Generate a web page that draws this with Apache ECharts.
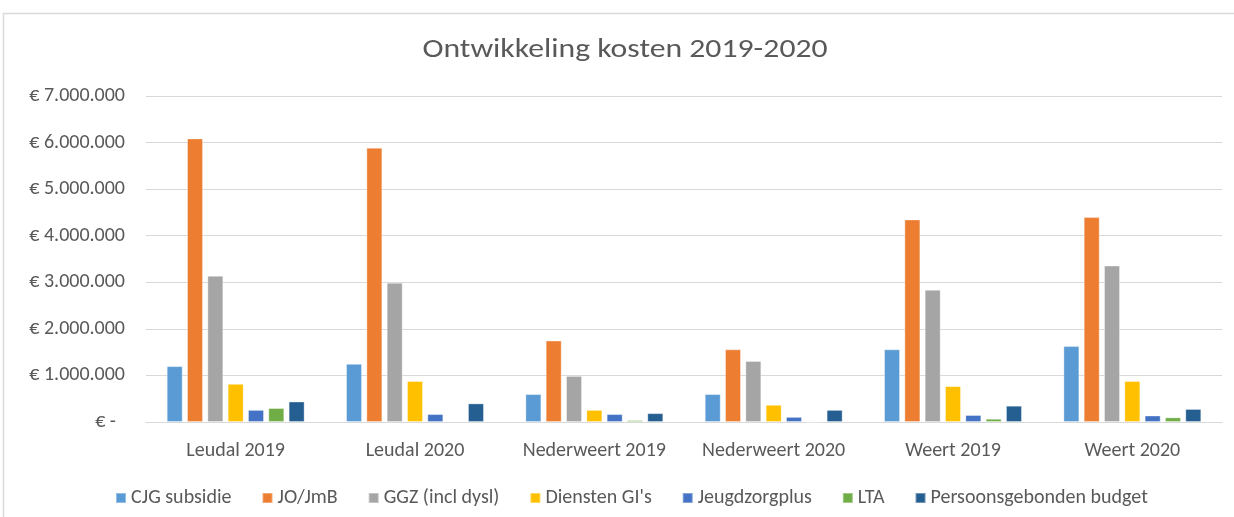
<!DOCTYPE html>
<html>
<head>
<meta charset="utf-8">
<script src="https://cdn.jsdelivr.net/npm/echarts@6/dist/echarts.min.js"></script>
<style>
  html, body { margin: 0; padding: 0; background: #fff; }
  #chart { width: 1234px; height: 517px; }
</style>
</head>
<body>
<div id="chart"></div>
<script>
// Categories (municipality + year)
const categories = ['Leudal 2019', 'Leudal 2020', 'Nederweert 2019', 'Nederweert 2020', 'Weert 2019', 'Weert 2020'];

// Cost per category, in euros
const cjgSubsidie   = [1200000, 1250000, 600000, 600000, 1560000, 1630000];
const joJmb         = [6090000, 5890000, 1750000, 1560000, 4350000, 4400000];
const ggzInclDysl   = [3140000, 2990000, 990000, 1310000, 2840000, 3360000];
const dienstenGi    = [820000, 880000, 260000, 370000, 770000, 880000];
const jeugdzorgplus = [260000, 170000, 170000, 110000, 150000, 140000];
const lta           = [300000, 20000, 40000, 0, 70000, 100000];
const pgb           = [440000, 400000, 190000, 260000, 350000, 280000];

const seriesNames = ['CJG subsidie', 'JO/JmB', 'GGZ (incl dysl)', "Diensten GI's", 'Jeugdzorgplus', 'LTA', 'Persoonsgebonden budget'];
const seriesData = [cjgSubsidie, joJmb, ggzInclDysl, dienstenGi, jeugdzorgplus, lta, pgb];
const colors = ['#5B9BD5', '#ED7D31', '#A5A5A5', '#FFC000', '#4472C4', '#70AD47', '#255E91'];

const FONT = "Carlito, Lato, sans-serif";
const TEXT_COLOR = '#595959';

// Accounting-style euro label: dots as thousands separator, dash for zero
function euro(v) {
  if (v === 0) return '€ -  ';
  return '€ ' + String(v).replace(/\B(?=(\d{3})+(?!\d))/g, '.');
}

const chart = echarts.init(document.getElementById('chart'), null, { renderer: 'canvas' });
chart.setOption({
  animation: false,
  color: colors,
  graphic: [
    {
      type: 'rect',
      shape: { x: 3.5, y: 13.5, width: 1240, height: 520 },
      style: { fill: 'none', stroke: '#D9D9D9', lineWidth: 1.5 },
      silent: true
    },
    {
      // chart title, drawn slightly widened
      type: 'text',
      x: 625,
      y: 50,
      scaleX: 1.22,
      style: {
        text: 'Ontwikkeling kosten 2019-2020',
        fontFamily: FONT,
        fontSize: 26,
        fill: TEXT_COLOR,
        align: 'center',
        verticalAlign: 'middle'
      },
      silent: true
    }
  ],
  legend: {
    top: 483,
    left: 110,
    itemWidth: 10,
    itemHeight: 10,
    itemGap: 30,
    icon: 'rect',
    textStyle: { fontFamily: FONT, fontSize: 20, color: TEXT_COLOR, padding: [0, 0, 0, 0] },
    data: seriesNames
  },
  grid: { left: 146, right: 12, top: 96, bottom: 95, containLabel: false },
  xAxis: {
    type: 'category',
    data: categories,
    axisLine: { lineStyle: { color: '#D9D9D9', width: 1 } },
    axisTick: { show: false },
    axisLabel: { interval: 0, hideOverlap: false, fontFamily: FONT, fontSize: 20, color: TEXT_COLOR, margin: 19 }
  },
  yAxis: {
    type: 'value',
    min: 0,
    max: 7000000,
    interval: 1000000,
    axisLine: { show: false },
    axisTick: { show: false },
    splitLine: { lineStyle: { color: '#D9D9D9', width: 1 } },
    axisLabel: { fontFamily: FONT, fontSize: 20, color: TEXT_COLOR, margin: 21, formatter: euro }
  },
  series: seriesNames.map((name, i) => ({
    name: name,
    type: 'bar',
    data: seriesData[i],
    barWidth: 16,
    barGap: '27%',
    itemStyle: { color: colors[i], borderColor: 'rgba(255,255,255,0.35)', borderWidth: 1 }
  }))
});
</script>
</body>
</html>
